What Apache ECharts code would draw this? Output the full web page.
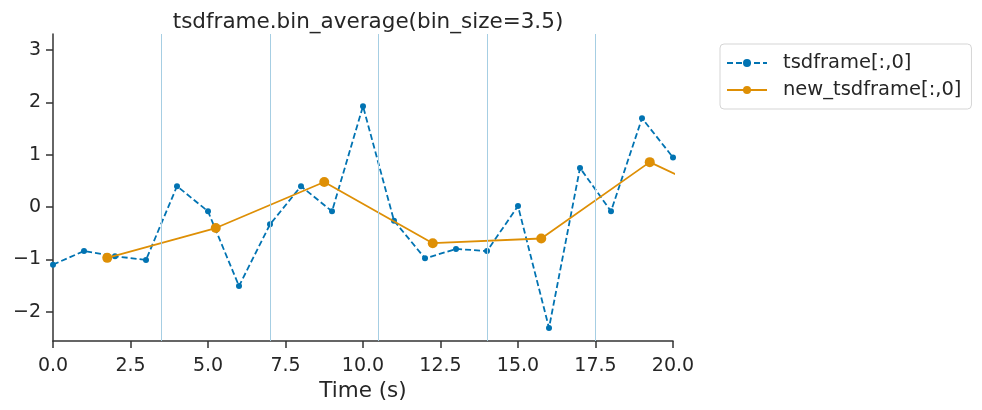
<!DOCTYPE html>
<html><head><meta charset="utf-8">
<script src="https://cdn.jsdelivr.net/npm/echarts@6/dist/echarts.min.js"></script>
<style>html,body{margin:0;padding:0;background:#fff}#c{width:982px;height:410px}</style>
</head><body><div id="c"></div>
<script>
const rawTimes = [0,1,2,3,4,5,6,7,8,9,10,11,12,13,14,15,16,17,18,19,20];
const rawValues = [-1.10,-0.84,-0.94,-1.01,0.40,-0.08,-1.51,-0.33,0.40,-0.08,1.93,-0.26,-0.98,-0.80,-0.84,0.02,-2.31,0.75,-0.08,1.70,0.95];
const binTimes = [1.75,5.25,8.75,12.25,15.75,19.25,22.75];
const binValues = [-0.97,-0.40,0.48,-0.69,-0.60,0.86,-0.12];
const binEdges = [3.5,7,10.5,14,17.5];
const yTicks = [-2,-1,0,1,2,3];
const font = 'DejaVu Sans';
const minus = v => String(v).replace('-', '\u2212');
const chart = echarts.init(document.getElementById('c'), null, {renderer:'canvas'});
chart.setOption({
  animation:false,
  title:{text:'tsdframe.bin_average(bin_size=3.5)', left:363, top:6, textAlign:'center',
    textStyle:{fontFamily:font, fontSize:21.5, fontWeight:'normal', color:'#262626'}},
  grid:{left:53, right:309, top:34, bottom:69, containLabel:false, outerBoundsMode:'none'},
  legend:{left:720, top:44, orient:'vertical', backgroundColor:'#fff',
    borderColor:'#d5d5d5', borderWidth:1, borderRadius:4, padding:[9,10,9,6], itemGap:7,
    itemWidth:40, itemHeight:10,
    textStyle:{fontFamily:font, fontSize:19.5, color:'#262626', padding:[0,0,0,11]},
    data:['tsdframe[:,0]','new_tsdframe[:,0]']},
  xAxis:{type:'value', min:0, max:20, interval:2.5,
    name:'Time (s)', nameLocation:'middle', nameGap:37,
    nameTextStyle:{fontFamily:font, fontSize:21.5, color:'#262626'},
    axisLine:{show:true, onZero:false, lineStyle:{color:'#333', width:1.5}},
    axisTick:{show:true, inside:false, length:7, lineStyle:{color:'#333', width:1.5}},
    axisLabel:{fontFamily:font, fontSize:19, color:'#262626', margin:16, formatter:v=>v.toFixed(1)},
    splitLine:{show:false}},
  yAxis:{type:'value', min:-2.56, max:3.31,
    axisLine:{show:true, onZero:false, lineStyle:{color:'#333', width:1.5}},
    axisTick:{show:true, inside:false, length:7, customValues:yTicks, lineStyle:{color:'#333', width:1.5}},
    axisLabel:{fontFamily:font, fontSize:19, color:'#262626', margin:12, customValues:yTicks, formatter:minus},
    splitLine:{show:false}},
  series:[
    {name:'tsdframe[:,0]', type:'line', data:rawTimes.map((t,i)=>[t,rawValues[i]]),
      symbol:'circle', symbolSize:6, showSymbol:true,
      itemStyle:{color:'#0173b2'}, lineStyle:{color:'#0173b2', width:1.8, type:[6,3]},
      clip:true, z:2,
      markLine:{silent:true, symbol:'none', label:{show:false},
        lineStyle:{color:'#a6cee3', width:1, type:'solid'},
        data:binEdges.map(e=>({xAxis:e}))}},
    {name:'new_tsdframe[:,0]', type:'line', data:binTimes.map((t,i)=>[t,binValues[i]]),
      symbol:'circle', symbolSize:10, showSymbol:true,
      itemStyle:{color:'#de8f05'}, lineStyle:{color:'#de8f05', width:1.8},
      clip:true, z:3}
  ]
});
</script></body></html>
